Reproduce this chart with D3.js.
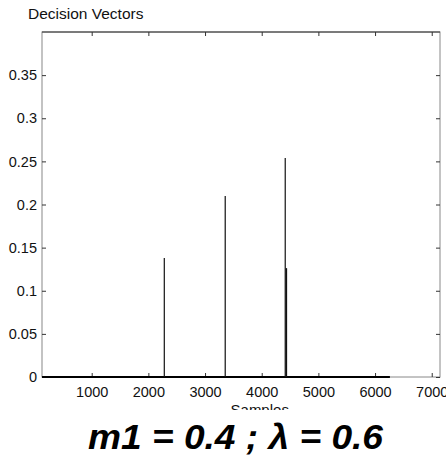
<!DOCTYPE html>
<html>
<head>
<meta charset="utf-8">
<script src="https://cdn.jsdelivr.net/npm/d3@7"></script>
<style>
  body { margin: 0; background: #fff; }
  text { font-family: "Liberation Sans", Arial, sans-serif; }
</style>
</head>
<body>
<svg id="chart"></svg>
<script>
// sample index and value of each non-zero decision
const spikeSamples = [2281, 3356, 4415, 4432, 4438];
const spikeValues = [0.138, 0.21, 0.254, 0.126, 0.126];
const sampleRange = [1, 6262];
const xTicks = [1000, 2000, 3000, 4000, 5000, 6000, 7000];
const yTicks = [0, 0.05, 0.1, 0.15, 0.2, 0.25, 0.3, 0.35];
const yTickLabels = ['0', '0.05', '0.1', '0.15', '0.2', '0.25', '0.3', '0.35'];

const width = 446, height = 455;
const margin = { top: 32, right: 6, bottom: 78, left: 42 };
const w = width - margin.left - margin.right;
const h = height - margin.top - margin.bottom;

const svg = d3.select('#chart').attr('width', width).attr('height', height);

const xScale = d3.scaleLinear().domain([123, 7146]).range([0, w]);
const yScale = d3.scaleLinear().domain([0, 0.4]).range([h, 0]);

const chart = svg.append('g').attr('transform', `translate(${margin.left},${margin.top})`);

// box
chart.append('rect').attr('width', w).attr('height', h)
  .attr('fill', 'none').attr('stroke', '#888').attr('stroke-width', 1);
chart.append('line').attr('x1', 0).attr('x2', w).attr('y1', 0).attr('y2', 0)
  .attr('stroke', '#333');

// axes with inward ticks
const xAxis = d3.axisBottom(xScale).tickValues(xTicks).tickSize(-4).tickSizeOuter(0).tickPadding(8)
  .tickFormat(d3.format('d'));
const yAxis = d3.axisLeft(yScale).tickValues(yTicks).tickSize(-4).tickSizeOuter(0).tickPadding(5)
  .tickFormat((d, i) => yTickLabels[i]);

const xAxisG = chart.append('g').attr('transform', `translate(0,${h})`).call(xAxis);
const yAxisG = chart.append('g').call(yAxis);
chart.append('g').call(d3.axisTop(xScale).tickValues(xTicks).tickSize(-4).tickFormat(''));
chart.append('g').attr('transform', `translate(${w},0)`)
  .call(d3.axisRight(yScale).tickValues(yTicks).tickSize(-4).tickFormat(''));

chart.selectAll('.domain').remove();
chart.selectAll('.tick line').attr('stroke', '#333');
[xAxisG, yAxisG].forEach(g => g.selectAll('.tick text')
  .attr('fill', '#111').style('font-size', '14.5px'));
xAxisG.selectAll('.tick text').attr('dy', '0.8em');

// data: zero line plus stems
const marks = chart.append('g');
marks.append('line')
  .attr('x1', Math.max(0, xScale(sampleRange[0]))).attr('x2', xScale(sampleRange[1]))
  .attr('y1', yScale(0)).attr('y2', yScale(0))
  .attr('stroke', '#000').attr('stroke-width', 2);
marks.selectAll('.stem').data(spikeSamples).join('line')
  .attr('class', 'stem')
  .attr('x1', d => xScale(d)).attr('x2', d => xScale(d))
  .attr('y1', yScale(0)).attr('y2', (d, i) => yScale(spikeValues[i]))
  .attr('stroke', '#111').attr('stroke-width', 1.2);

// labels
svg.append('text').attr('x', 28).attr('y', 19)
  .style('font-size', '15.5px').attr('fill', '#111').text('Decision Vectors');
svg.append('text').attr('x', margin.left + xScale(4000) - 2).attr('y', 415)
  .attr('text-anchor', 'middle').style('font-size', '15px').attr('fill', '#111').text('Samples');
svg.append('rect').attr('x', 0).attr('y', 410).attr('width', width).attr('height', 45).attr('fill', '#fff');
svg.append('text').attr('x', 88).attr('y', 449)
  .attr('textLength', 295).attr('lengthAdjust', 'spacingAndGlyphs')
  .style('font-size', '35px').style('font-weight', 'bold').style('font-style', 'italic')
  .attr('fill', '#000').text('m1 = 0.4 ; \u03bb = 0.6');
</script>
</body>
</html>
